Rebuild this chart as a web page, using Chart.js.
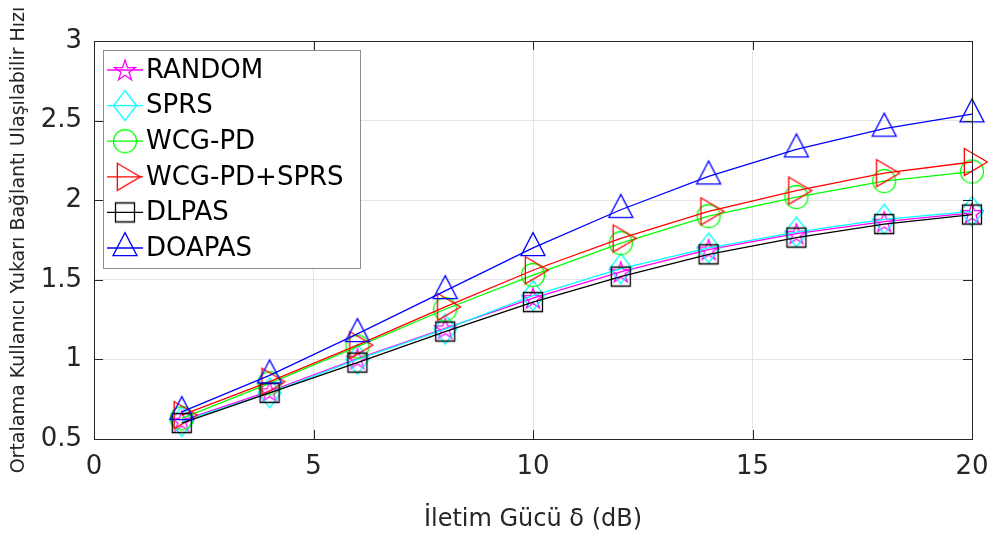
<!DOCTYPE html>
<html>
<head>
<meta charset="utf-8">
<script src="https://cdn.jsdelivr.net/npm/chart.js@4.4.0/dist/chart.umd.min.js"></script>
<style>
  html, body { margin: 0; padding: 0; background: #fff; }
  #wrap { width: 994px; height: 536px; position: relative; }
</style>
</head>
<body>
<div id="wrap"><canvas id="rateChart"></canvas></div>
<script>
const powerDb = [2, 4, 6, 8, 10, 12, 14, 16, 18, 20];
const randomRate = [0.615, 0.80, 1.005, 1.195, 1.385, 1.55, 1.69, 1.79, 1.865, 1.92];
const sprsRate = [0.61, 0.79, 1.00, 1.19, 1.40, 1.57, 1.70, 1.80, 1.88, 1.93];
const wcgRate = [0.63, 0.85, 1.08, 1.315, 1.53, 1.73, 1.90, 2.02, 2.12, 2.18];
const wcgSprsRate = [0.65, 0.86, 1.09, 1.33, 1.56, 1.76, 1.93, 2.06, 2.17, 2.24];
const dlpasRate = [0.60, 0.79, 0.98, 1.175, 1.36, 1.52, 1.66, 1.765, 1.85, 1.91];
const doapasRate = [0.67, 0.90, 1.16, 1.43, 1.70, 1.94, 2.15, 2.32, 2.45, 2.54];

const seriesNames = ['RANDOM', 'SPRS', 'WCG-PD', 'WCG-PD+SPRS', 'DLPAS', 'DOAPAS'];
const xTicks = [0, 5, 10, 15, 20];
const yTicks = [0.5, 1, 1.5, 2, 2.5, 3];

const FONT = "'DejaVu Sans', 'Liberation Sans', Arial, sans-serif";
const AXIS_COLOR = '#262626';

// matlab-like markers drawn into small canvases, centred on the data point
function makeMarker(kind, color) {
    const size = 40, m = size / 2;
    const c = document.createElement('canvas');
    c.width = size; c.height = size;
    const g = c.getContext('2d');
    g.strokeStyle = color;
    g.lineWidth = 1.3;
    g.beginPath();
    if (kind === 'star') {
        const R = 11, r = R * 0.382;
        for (let i = 0; i < 10; i++) {
            const rad = i % 2 === 0 ? R : r;
            const a = -Math.PI / 2 + i * Math.PI / 5;
            const px = m + rad * Math.cos(a), py = m + rad * Math.sin(a) + 1;
            i === 0 ? g.moveTo(px, py) : g.lineTo(px, py);
        }
    } else if (kind === 'diamond') {
        g.moveTo(m, m - 15); g.lineTo(m + 11.5, m); g.lineTo(m, m + 15); g.lineTo(m - 11.5, m);
    } else if (kind === 'circle') {
        g.arc(m, m, 11.5, 0, Math.PI * 2);
    } else if (kind === 'rtri') {
        g.moveTo(m - 23 / 3, m - 13.5); g.lineTo(m + 46 / 3, m); g.lineTo(m - 23 / 3, m + 13.5);
    } else if (kind === 'square') {
        g.rect(m - 9.5, m - 9.5, 19, 19);
    } else if (kind === 'tri') {
        g.moveTo(m, m - 46 / 3); g.lineTo(m + 12, m + 23 / 3); g.lineTo(m - 12, m + 23 / 3);
    }
    g.closePath();
    g.stroke();
    return c;
}

const seriesValues = [randomRate, sprsRate, wcgRate, wcgSprsRate, dlpasRate, doapasRate];
const seriesColors = ['#ff00ff', '#00ffff', '#00ff00', '#ff0000', '#000000', '#0000ff'];
const seriesMarkers = ['star', 'diamond', 'circle', 'rtri', 'square', 'tri'].map((k, i) => makeMarker(k, seriesColors[i]));

const datasets = seriesNames.map((name, i) => ({
    label: name,
    data: powerDb.map((x, j) => ({ x: x, y: seriesValues[i][j] })),
    borderColor: seriesColors[i],
    backgroundColor: seriesColors[i],
    borderWidth: 1.3,
    pointStyle: seriesMarkers[i],
    pointRadius: 10,
    tension: 0,
    clip: false,
    order: seriesNames.length - i
}));

// box, inward ticks on all four sides, legend inside the axes
const framePlugin = {
    id: 'frame',
    afterDraw(chart) {
        const { ctx, chartArea: a, scales } = chart;
        const tl = 9;
        ctx.save();
        ctx.strokeStyle = AXIS_COLOR;
        ctx.lineWidth = 1;
        ctx.strokeRect(a.left + 0.5, a.top + 0.5, a.right - a.left, a.bottom - a.top);
        ctx.beginPath();
        xTicks.forEach(v => {
            const px = Math.round(scales.x.getPixelForValue(v)) + 0.5;
            ctx.moveTo(px, a.bottom); ctx.lineTo(px, a.bottom - tl);
            ctx.moveTo(px, a.top); ctx.lineTo(px, a.top + tl);
        });
        yTicks.forEach(v => {
            const py = Math.round(scales.y.getPixelForValue(v)) + 0.5;
            ctx.moveTo(a.left, py); ctx.lineTo(a.left + tl, py);
            ctx.moveTo(a.right, py); ctx.lineTo(a.right - tl, py);
        });
        ctx.stroke();

        // legend
        const lx = 103, ly = 50, lw = 257, lh = 218, row = 35.6;
        ctx.fillStyle = '#fff';
        ctx.fillRect(lx, ly, lw, lh);
        ctx.strokeStyle = '#8c8c8c';
        ctx.strokeRect(lx + 0.5, ly + 0.5, lw, lh);
        ctx.font = '26px ' + FONT;
        ctx.textBaseline = 'middle';
        ctx.textAlign = 'left';
        seriesNames.forEach((name, i) => {
            const cy = ly + 20 + i * row;
            ctx.strokeStyle = seriesColors[i];
            ctx.lineWidth = 1.3;
            ctx.beginPath();
            ctx.moveTo(lx + 4, cy); ctx.lineTo(lx + 40, cy);
            ctx.stroke();
            const mk = seriesMarkers[i];
            ctx.drawImage(mk, lx + 22 - mk.width / 2, cy - mk.height / 2);
            ctx.fillStyle = '#000';
            ctx.fillText(name, lx + 43, cy + 1);
        });
        ctx.restore();
    }
};

new Chart(document.getElementById('rateChart'), {
    type: 'line',
    data: { datasets: datasets },
    options: {
        responsive: true,
        maintainAspectRatio: false,
        animation: false,
        layout: { padding: { top: 41, right: 22, left: 0, bottom: 0 } },
        plugins: { legend: { display: false }, tooltip: { enabled: false } },
        scales: {
            x: {
                type: 'linear',
                min: 0, max: 20,
                afterBuildTicks: s => { s.ticks = xTicks.map(v => ({ value: v })); },
                afterFit: s => { s.height = 97; s.paddingLeft = 0; s.paddingRight = 0; },
                grid: { color: '#e4e4e4', drawTicks: false },
                border: { display: false },
                ticks: { color: AXIS_COLOR, padding: 13, maxRotation: 0, font: { family: FONT, size: 26 } },
                title: { display: true, text: 'İletim Gücü δ (dB)', color: AXIS_COLOR, padding: { top: 0, bottom: 2 }, font: { family: FONT, size: 24 } }
            },
            y: {
                min: 0.5, max: 3,
                afterBuildTicks: s => { s.ticks = yTicks.map(v => ({ value: v })); },
                afterFit: s => { s.width = 94; s.paddingTop = 0; s.paddingBottom = 0; },
                grid: { color: '#e4e4e4', drawTicks: false },
                border: { display: false },
                ticks: { color: AXIS_COLOR, padding: 12, font: { family: FONT, size: 26 }, callback: v => String(v) },
                title: { display: true, text: 'Ortalama Kullanıcı Yukarı Bağlantı Ulaşılabilir Hızı', color: AXIS_COLOR, padding: { top: 8, bottom: 0 }, font: { family: FONT, size: 19 } }
            }
        }
    },
    plugins: [framePlugin]
});
</script>
</body>
</html>
